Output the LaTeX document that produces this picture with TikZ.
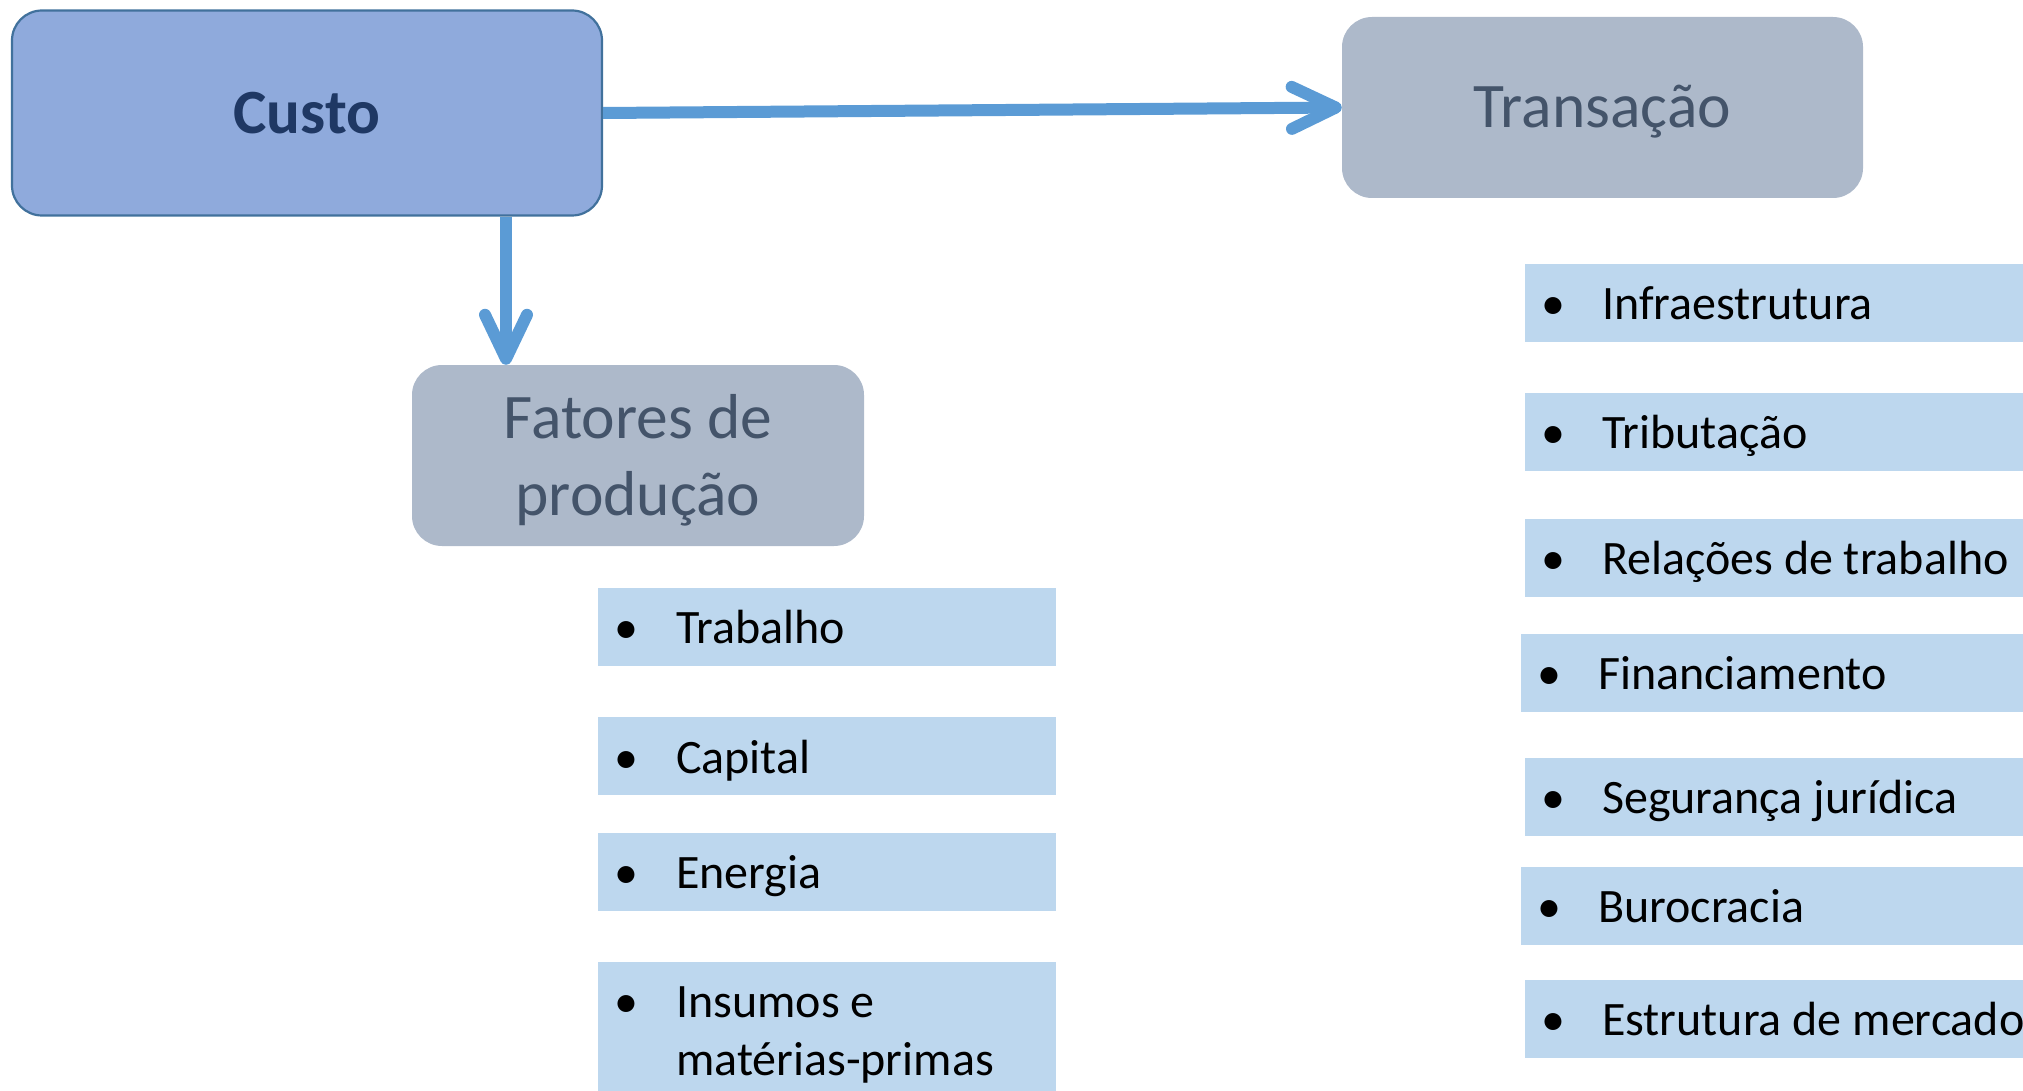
\documentclass[tikz,border=0pt]{standalone}
\usepackage{fontspec}
\setmainfont{Carlito}
\usetikzlibrary{arrows.meta}
\definecolor{custofill}{HTML}{8FAADC}
\definecolor{custoline}{HTML}{41719C}
\definecolor{custotext}{HTML}{1F3864}
\definecolor{grayfill}{HTML}{ADB9CA}
\definecolor{graytext}{HTML}{44546A}
\definecolor{itemfill}{HTML}{BDD7EE}
\definecolor{arrowblue}{HTML}{5B9BD5}
\begin{document}
\begin{tikzpicture}[x=1pt,y=-1pt,
  custobox/.style={fill=custofill,draw=custoline,line width=2.2pt,rounded corners=30pt,
    minimum width=590pt,minimum height=205pt,inner sep=0pt,text=custotext,
    font=\fontsize{63}{75}\selectfont\bfseries,text height=41pt,text depth=0pt},
  graybox/.style={fill=grayfill,draw=none,rounded corners=30pt,inner sep=0pt,text=graytext,
    font=\fontsize{63.5}{77}\selectfont,text height=41pt,text depth=0pt},
  graytxt/.style={text=graytext,font=\fontsize{63.5}{77}\selectfont,inner sep=0pt,anchor=base},
  itembox/.style={fill=itemfill,draw=none,anchor=north west,inner sep=0pt,minimum height=78pt},
  itemtext/.style={font=\fontsize{48}{58}\selectfont,anchor=base west,inner sep=0pt,text=black},
  bul/.style={font=\fontsize{48}{58}\selectfont,anchor=base,inner sep=0pt,text=black},
  arr/.style={draw=arrowblue,line width=12pt,
    -{Straight Barb[length=44pt,width=42pt,round]}}
]
\useasboundingbox (0,0) rectangle (2023,1091);

% main boxes
\node[custobox] (custo) at (307,113) {Custo};
\node[graybox,minimum width=521pt,minimum height=181pt] (trans) at (1602.5,107.5) {Transação};
\node[graybox,minimum width=452pt,minimum height=181pt] (fat) at (638,455.5) {};
\node[graytxt] (fat1) at (638,438) {Fatores de};
\node[graytxt] (fat2) at (638,515) {produção};

% arrows
\draw[arr] (custo.east) -- (trans.west);
\draw[arr] ([xshift=199pt]custo.south) -- ([xshift=-132pt]fat.north);

% left column
\node[itembox,minimum width=458pt] (l1) at (598,588) {};
\node[itembox,minimum width=458pt] (l2) at (598,717) {};
\node[itembox,minimum width=458pt] (l3) at (598,833) {};
\node[itembox,minimum width=458pt,minimum height=129pt] (l4) at (598,962) {};
\node[bul] (l1b) at (626,643) {•};
\node[itemtext] (l1t) at (676,643) {Trabalho};
\node[bul] (l2b) at (626,773) {•};
\node[itemtext] (l2t) at (676,773) {Capital};
\node[bul] (l3b) at (626,888) {•};
\node[itemtext] (l3t) at (676,888) {Energia};
\node[bul] (l4b) at (626,1017) {•};
\node[itemtext] (l4t) at (676,1017) {Insumos e};
\node[itemtext] (l4u) at (676,1075) {matérias-primas};

% right column
\node[itembox,minimum width=498pt] (r1) at (1525,264) {};
\node[itembox,minimum width=498pt] (r2) at (1525,393) {};
\node[itembox,minimum width=498pt] (r3) at (1525,519) {};
\node[itembox,minimum width=502pt] (r4) at (1521,634) {};
\node[itembox,minimum width=498pt] (r5) at (1525,758) {};
\node[itembox,minimum width=502pt] (r6) at (1521,867) {};
\node[itembox,minimum width=498pt] (r7) at (1525,980) {};
\node[bul] (r1b) at (1553,319) {•};
\node[itemtext] (r1t) at (1602,319) {Infraestrutura};
\node[bul] (r2b) at (1553,448) {•};
\node[itemtext] (r2t) at (1602,448) {Tributação};
\node[bul] (r3b) at (1553,574) {•};
\node[itemtext] (r3t) at (1602,574) {Relações de trabalho};
\node[bul] (r4b) at (1549,689) {•};
\node[itemtext] (r4t) at (1598,689) {Financiamento};
\node[bul] (r5b) at (1553,813) {•};
\node[itemtext] (r5t) at (1602,813) {Segurança jurídica};
\node[bul] (r6b) at (1549,922) {•};
\node[itemtext] (r6t) at (1598,922) {Burocracia};
\node[bul] (r7b) at (1553,1035) {•};
\node[itemtext] (r7t) at (1602,1035) {Estrutura de mercado};
\end{tikzpicture}
\end{document}
